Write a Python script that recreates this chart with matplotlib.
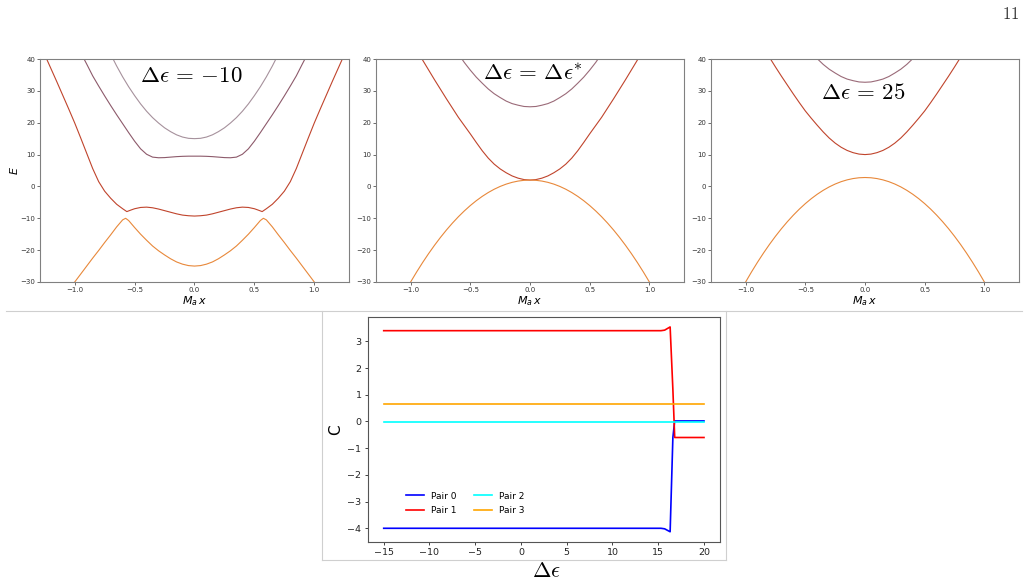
import numpy as np
import matplotlib
matplotlib.use("Agg")
import matplotlib.pyplot as plt
from matplotlib.lines import Line2D

W, H = 1029, 584

# ---- top panels: bands E(M_a x), half curves (x >= 0), mirrored when drawn ----
grid = [0, 0.05, 0.1, 0.15, 0.2, 0.25, 0.3, 0.35, 0.4, 0.45, 0.5, 0.55, 0.6,
        0.65, 0.7, 0.75, 0.8, 0.85, 0.9, 0.95, 1.0, 1.05]

# panel 1: delta eps = -10
p1_e_top = [15.0, 15.1, 15.5, 16.2, 17.2, 18.4, 19.9, 21.6, 23.6, 25.9, 28.5,
            31.3, 34.4, 37.8, 41.5]
p1_e_b2 = [9.5, 9.5, 9.45, 9.35, 9.2, 9.05, 9.0, 9.2, 10.1, 11.8, 14.2, 16.9,
           19.7, 22.5, 25.4, 28.4, 31.5, 34.7, 38.4, 42.0]
p1_x_b1 = [0, 0.05, 0.1, 0.15, 0.2, 0.25, 0.3, 0.35, 0.4, 0.45, 0.5, 0.53, 0.565,
           0.6, 0.65, 0.7, 0.75, 0.8, 0.85, 0.9, 0.95, 1.0, 1.05, 1.1, 1.15, 1.2,
           1.25, 1.3]
p1_e_b1 = [-9.3, -9.2, -9.0, -8.6, -8.1, -7.6, -7.1, -6.7, -6.5, -6.6, -7.0, -7.4,
           -7.9, -7.0, -5.6, -3.7, -1.5, 1.5, 5.6, 10.4, 15.2, 19.9, 24.3, 28.6,
           32.9, 37.1, 41.3, 45.5]
p1_x_b0 = [0, 0.05, 0.1, 0.15, 0.2, 0.25, 0.3, 0.35, 0.4, 0.45, 0.5, 0.55, 0.575,
           0.6, 0.65, 0.7, 0.75, 0.8, 0.85, 0.9, 0.95, 1.0, 1.05]
p1_e_b0 = [-25.0, -24.85, -24.4, -23.7, -22.7, -21.5, -20.2, -18.7, -16.9, -15.0,
           -12.9, -10.7, -10.0, -10.5, -12.7, -15.2, -17.6, -20.1, -22.5, -25.0,
           -27.5, -30.0, -32.5]

# panel 2: delta eps = delta eps*
p2_e_top = [25.0, 25.1, 25.5, 26.0, 26.8, 27.9, 29.1, 30.6, 32.4, 34.3, 36.5,
            38.9, 41.6]
p2_e_b1 = [2.0, 2.15, 2.6, 3.3, 4.3, 5.5, 7.0, 8.9, 11.2, 13.8, 16.5, 19.1, 21.7,
           24.6, 27.5, 30.5, 33.5, 36.6, 39.7, 42.8]
p2_e_b0 = [2.0, 1.92, 1.68, 1.28, 0.72, 0.0, -0.88, -1.92, -3.12, -4.48, -6.0,
           -7.68, -9.52, -11.52, -13.68, -16.0, -18.48, -21.12, -23.92, -26.88,
           -30.0, -33.3]

# panel 3: delta eps = 25
p3_e_top = [32.7, 32.8, 33.2, 33.7, 34.5, 35.6, 36.8, 38.3, 40.1, 42.0]
p3_e_b1 = [10.0, 10.15, 10.6, 11.3, 12.3, 13.6, 15.2, 17.1, 19.2, 21.4, 23.7,
           26.3, 29.0, 31.8, 34.6, 37.5, 40.5, 43.5]
p3_e_b0 = [2.8, 2.72, 2.47, 2.06, 1.49, 0.75, -0.15, -1.22, -2.45, -3.84, -5.4,
           -7.12, -9.01, -11.06, -13.27, -15.65, -18.19, -20.9, -23.77, -26.8,
           -30.0, -33.4]

# ---- bottom panel: C vs delta eps ----
d_eps = [-15.0, 15.3, 15.7, 16.3, 16.6, 16.8, 20.0]
pair0 = [-4.0, -4.0, -4.02, -4.13, -0.6, 0.02, 0.02]
pair1 = [3.40, 3.40, 3.42, 3.54, 1.2, -0.6, -0.6]
pair2 = [-0.03, -0.03, -0.03, -0.03, -0.03, -0.03, -0.03]
pair3 = [0.65, 0.65, 0.65, 0.65, 0.65, 0.65, 0.65]

c_light = "#a6919c"
c_mauve = "#8d5a6b"
c_mauve2 = "#9a6a78"
c_red = "#c0442c"
c_orange = "#e8883a"


def mirror(x, y):
    x = np.asarray(x[:len(y)])
    y = np.asarray(y)
    return np.concatenate([-x[::-1], x[1:]]), np.concatenate([y[::-1], y[1:]])


def box(left, right, top, bottom):
    return [left / W, 1 - bottom / H, (right - left) / W, (bottom - top) / H]


fig = plt.figure(figsize=(W / 100, H / 100), dpi=100)

panels = [
    (40, 349, [(grid, p1_e_top, c_light), (grid, p1_e_b2, c_mauve),
               (p1_x_b1, p1_e_b1, c_red), (p1_x_b0, p1_e_b0, c_orange)]),
    (376, 684, [(grid, p2_e_top, c_mauve2), (grid, p2_e_b1, c_red),
                (grid, p2_e_b0, c_orange)]),
    (711, 1019, [(grid, p3_e_top, c_mauve2), (grid, p3_e_b1, c_red),
                 (grid, p3_e_b0, c_orange)]),
]

for i, (l, r, curves) in enumerate(panels):
    ax = fig.add_axes(box(l, r, 59, 282))
    for x, e, col in curves:
        xs, es = mirror(x, e)
        ax.plot(xs, es, color=col, lw=0.8)
    ax.set_xlim(-1.29, 1.29)
    ax.set_ylim(-30, 40)
    ax.set_xticks([-1.0, -0.5, 0.0, 0.5, 1.0])
    ax.set_yticks(np.arange(-30, 41, 10))
    ax.tick_params(labelsize=5, length=2, width=0.5, pad=1.5, colors="#333333")
    for s in ax.spines.values():
        s.set_color("#808080")
        s.set_linewidth(0.8)
    ax.set_xlabel(r"$M_a\,x$", fontsize=8, labelpad=1)
    if i == 0:
        ax.set_ylabel(r"$E$", fontsize=8, labelpad=0)

# titles inside the top panels
fig.text(191.5 / W, 1 - 82.5 / H, r"$\Delta\epsilon\,=\,{-}10$", fontsize=16.5,
         math_fontfamily="cm", ha="center", va="baseline")
fig.text(533 / W, 1 - 80.5 / H, r"$\Delta\epsilon\,=\,\Delta\epsilon^{*}$",
         fontsize=16.5, math_fontfamily="cm", ha="center", va="baseline")
fig.text(863 / W, 1 - 99 / H, r"$\Delta\epsilon\,=\,25$", fontsize=16.5,
         math_fontfamily="cm", ha="center", va="baseline")

# bottom panel
axb = fig.add_axes(box(367.7, 720, 316.7, 542))
axb.plot(d_eps, pair0, color="blue", lw=1.2, label="Pair 0")
axb.plot(d_eps, pair1, color="red", lw=1.2, label="Pair 1")
axb.plot(d_eps, pair2, color="cyan", lw=1.2, label="Pair 2")
axb.plot(d_eps, pair3, color="orange", lw=1.2, label="Pair 3")
axb.set_xticks(np.arange(-15, 21, 5))
axb.set_yticks(np.arange(-4, 4, 1))
axb.tick_params(labelsize=6.8, length=2.5, width=0.6, pad=2, colors="#222222")
for s in axb.spines.values():
    s.set_color("#555555")
    s.set_linewidth(0.8)
axb.set_ylabel("C", fontsize=11, labelpad=3)
axb.legend(ncol=2, loc="lower left", bbox_to_anchor=(0.097, 0.1), frameon=False,
           fontsize=6.5, borderpad=0, handlelength=2.0, columnspacing=2.0,
           handletextpad=0.7, labelspacing=0.6)

fig.text(546 / W, 1 - 577 / H, r"$\Delta\epsilon$", fontsize=16,
         math_fontfamily="cm", ha="center", va="baseline")

# page number
fig.text(1011 / W, 1 - 19 / H, r"$11$", fontsize=12, math_fontfamily="cm",
         ha="center", va="baseline", color="#333333")

# light frame lines of the page layout
grey = "#cfcfcf"


def fline(x0, y0, x1, y1):
    fig.add_artist(Line2D([x0 / W, x1 / W], [1 - y0 / H, 1 - y1 / H],
                          color=grey, lw=0.8, transform=fig.transFigure))


fline(6, 310.5, 1022, 310.5)
fline(321.5, 310.5, 321.5, 559.5)
fline(726, 310.5, 726, 559.5)
fline(321.5, 559.5, 726, 559.5)

fig.savefig("out.png", dpi=100)
